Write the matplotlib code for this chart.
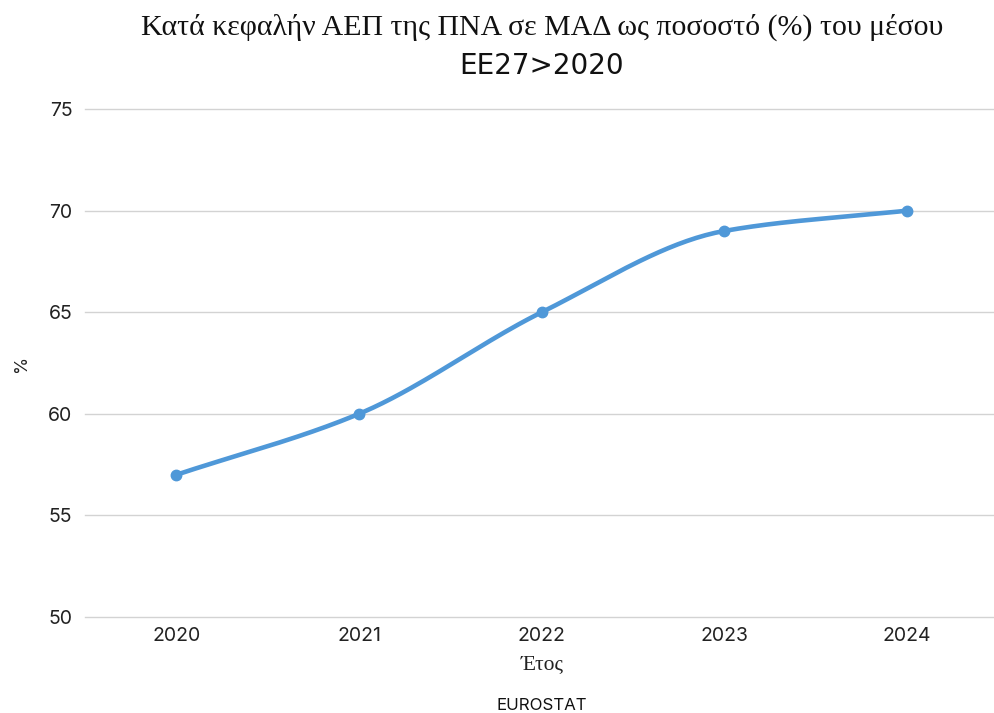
import numpy as np
import matplotlib.pyplot as plt

# Year and value (% of EU27 average)
years = ["2020", "2021", "2022", "2023", "2024"]
values = [57, 60, 65, 69, 70]

title_line1 = "Κατά κεφαλήν ΑΕΠ της ΠΝΑ σε ΜΑΔ ως ποσοστό (%) του μέσου"
title_line2 = "ΕΕ27>2020"
yticks = [50, 55, 60, 65, 70, 75]


def monotone_curve(x, y, n=40):
    # monotone cubic (Fritsch-Carlson) for the smooth line between points
    x = np.asarray(x, float)
    y = np.asarray(y, float)
    h = np.diff(x)
    d = np.diff(y) / h
    m = np.zeros_like(y)
    m[0], m[-1] = d[0], d[-1]
    for i in range(1, len(y) - 1):
        if d[i - 1] * d[i] <= 0:
            m[i] = 0
        else:
            w1 = 2 * h[i] + h[i - 1]
            w2 = h[i] + 2 * h[i - 1]
            m[i] = (w1 + w2) / (w1 / d[i - 1] + w2 / d[i])
    xs, ys = [], []
    for i in range(len(x) - 1):
        t = np.linspace(0, 1, n)
        h00 = 2 * t**3 - 3 * t**2 + 1
        h10 = t**3 - 2 * t**2 + t
        h01 = -2 * t**3 + 3 * t**2
        h11 = t**3 - t**2
        xs.append(x[i] + t * h[i])
        ys.append(h00 * y[i] + h10 * h[i] * m[i] + h01 * y[i + 1] + h11 * h[i] * m[i + 1])
    return np.concatenate(xs), np.concatenate(ys)


color = "#4f98d8"
xpos = np.arange(len(years))

fig = plt.figure(figsize=(9.94, 7.13), dpi=100)
ax = fig.add_axes([0.0855, 0.1346, 0.9135, 0.7125])

cx, cy = monotone_curve(xpos, values)
ax.plot(cx, cy, color=color, lw=3.3, solid_capstyle="round", zorder=3)
ax.plot(xpos, values, "o", color=color, ms=7.5, zorder=4)

ax.set_xlim(-0.5, 4.47)
ax.set_ylim(50, 75)
ax.set_yticks(yticks)
ax.set_xticks(xpos)
ax.set_xticklabels(years)
ax.grid(axis="y", color="#d3d3d3", lw=1)
for gl in ax.get_ygridlines():
    gl.set_clip_on(False)
ax.set_axisbelow(True)
for s in ax.spines.values():
    s.set_visible(False)
ax.tick_params(length=0, labelsize=14, colors="#222222")
for lab in ax.get_xticklabels() + ax.get_yticklabels():
    lab.set_family("Inter")
ax.tick_params(axis="x", pad=7)
ax.tick_params(axis="y", pad=9)

fig.text(0.545, 0.962, title_line1, ha="center", va="center",
         family="Liberation Serif", fontsize=21.5, color="#111111")
fig.text(0.545, 0.907, title_line2, ha="center", va="center",
         family="Liberation Sans Narrow", fontsize=20, color="#111111")
fig.text(0.545, 0.068, "Έτος", ha="center", va="center",
         family="Liberation Serif", fontsize=15.5, color="#222222")
fig.text(0.022, 0.49, "%", ha="center", va="center", rotation=90,
         family="Inter", fontsize=12.5, color="#222222")
fig.text(0.545, 0.011, "EUROSTAT", ha="center", va="center",
         family="Inter", fontsize=12.2, color="#111111")

fig.savefig("out.png", dpi=100)
